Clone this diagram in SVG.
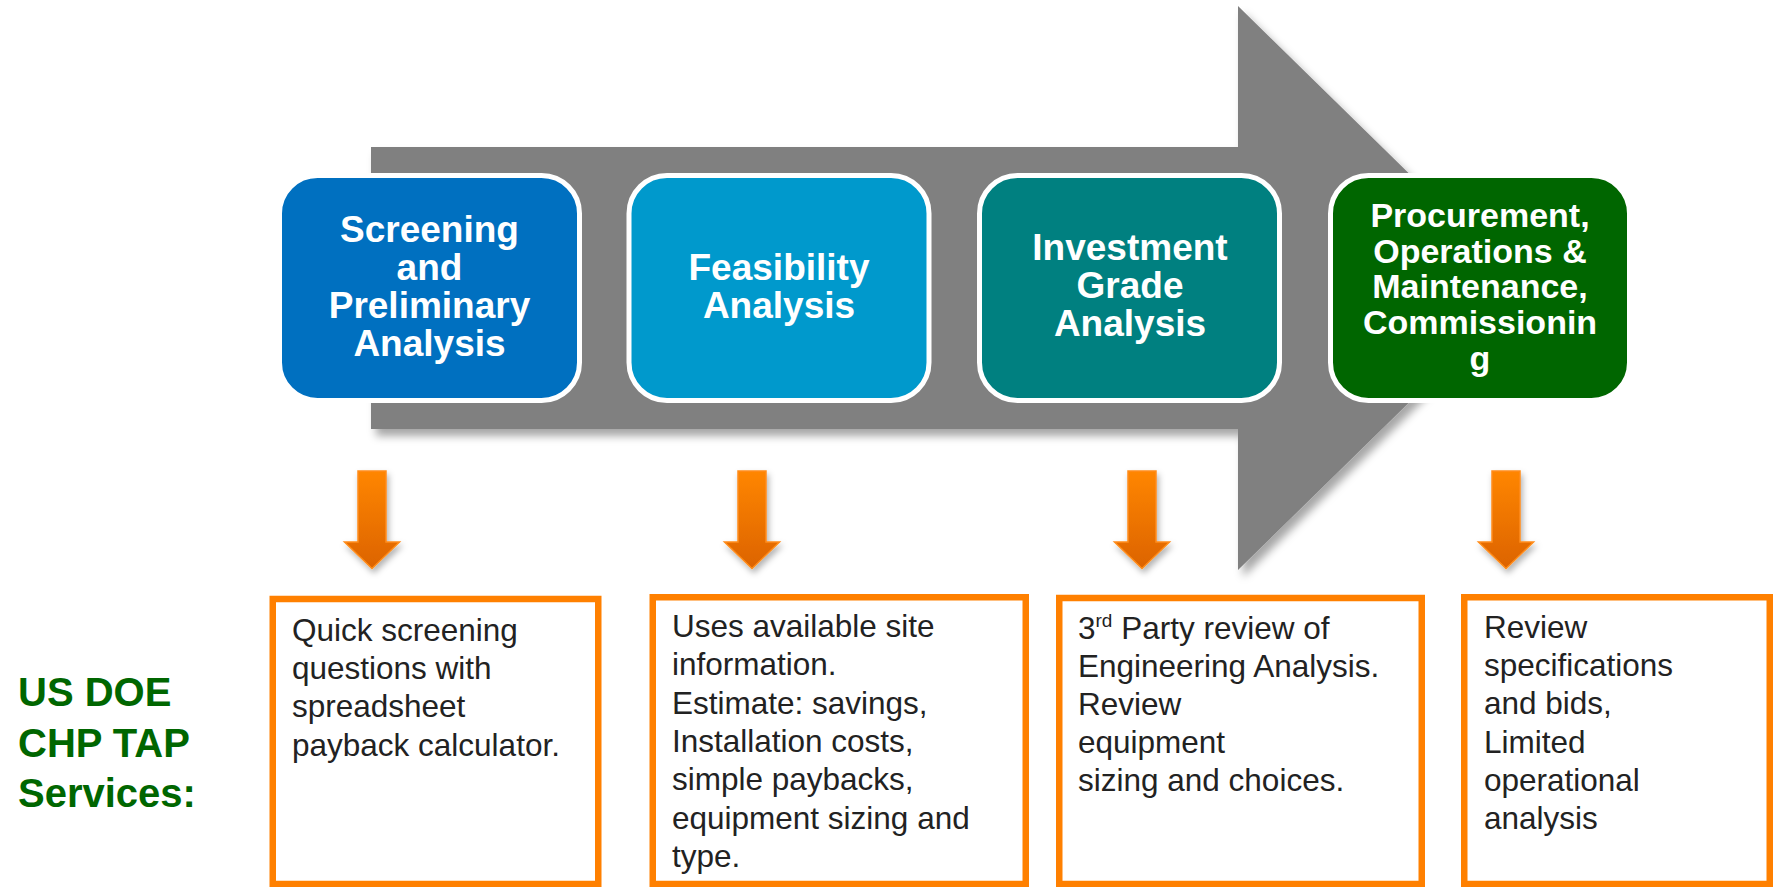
<svg xmlns="http://www.w3.org/2000/svg" width="1777" height="887" viewBox="0 0 1777 887">
<defs>
<filter id="shadow" x="-10%" y="-10%" width="130%" height="130%">
<feDropShadow dx="5" dy="7" stdDeviation="4" flood-color="#000" flood-opacity="0.35"/>
</filter>
<filter id="shadowSmall" x="-30%" y="-30%" width="160%" height="160%">
<feDropShadow dx="2" dy="4" stdDeviation="3" flood-color="#000" flood-opacity="0.3"/>
</filter>
<linearGradient id="orangeGrad" x1="0" y1="0" x2="0" y2="1">
<stop offset="0" stop-color="#FF8600"/>
<stop offset="1" stop-color="#DC6300"/>
</linearGradient>
<style>
.stage{stroke:#fff;stroke-width:5}
.stext{font-family:"Liberation Sans",Arial,sans-serif;font-weight:bold;fill:#fff;text-anchor:middle}
.obox{fill:#fff;stroke:#FF8000;stroke-width:6.5}
.otext{font-family:"Liberation Sans",Arial,sans-serif;font-size:31.5px;fill:#222}
.oarrow{fill:url(#orangeGrad);stroke:#FF8C1A;stroke-width:1.5;stroke-linejoin:miter}
.label{font-family:"Liberation Sans",Arial,sans-serif;font-weight:bold;font-size:40px;fill:#006600}
</style>
</defs>
<rect width="1777" height="887" fill="#fff"/>

<g id="big-arrow">
<polygon points="371,147 1238,147 1238,6 1526,288 1238,570 1238,429 371,429" fill="#808080" filter="url(#shadow)"/>
</g>

<g id="stage1">
<rect class="stage" x="279.5" y="175.5" width="300" height="225" rx="38" fill="#0070C0"/>
<text class="stext" font-size="37" x="429.5"><tspan x="429.5" y="242">Screening</tspan><tspan x="429.5" y="280">and</tspan><tspan x="429.5" y="318">Preliminary</tspan><tspan x="429.5" y="356">Analysis</tspan></text>
</g>
<g id="stage2">
<rect class="stage" x="629" y="175.5" width="300" height="225" rx="38" fill="#0099CC"/>
<text class="stext" font-size="37"><tspan x="779" y="280">Feasibility</tspan><tspan x="779" y="318">Analysis</tspan></text>
</g>
<g id="stage3">
<rect class="stage" x="979.5" y="175.5" width="300" height="225" rx="38" fill="#008080"/>
<text class="stext" font-size="37"><tspan x="1130" y="260">Investment</tspan><tspan x="1130" y="298">Grade</tspan><tspan x="1130" y="336">Analysis</tspan></text>
</g>
<g id="stage4">
<rect class="stage" x="1330.5" y="175.5" width="299" height="225" rx="38" fill="#006600"/>
<text class="stext" font-size="34"><tspan x="1480" y="227">Procurement,</tspan><tspan x="1480" y="262.5">Operations &amp;</tspan><tspan x="1480" y="298">Maintenance,</tspan><tspan x="1480" y="334">Commissionin</tspan><tspan x="1480" y="370">g</tspan></text>
</g>

<g id="connectors">
<polygon class="oarrow" filter="url(#shadowSmall)" points="358,471 386,471 386,542 399.5,542 372,568.5 344.5,542 358,542"/>
<polygon class="oarrow" filter="url(#shadowSmall)" points="738,471 766,471 766,542 779.5,542 752,568.5 724.5,542 738,542"/>
<polygon class="oarrow" filter="url(#shadowSmall)" points="1128,471 1156,471 1156,542 1169.5,542 1142,568.5 1114.5,542 1128,542"/>
<polygon class="oarrow" filter="url(#shadowSmall)" points="1492,471 1520,471 1520,542 1533.5,542 1506,568.5 1478.5,542 1492,542"/>
</g>

<g id="label">
<text class="label"><tspan x="18" y="706">US DOE</tspan><tspan x="18" y="757">CHP TAP</tspan><tspan x="18" y="807">Services:</tspan></text>
</g>

<g id="service1">
<rect class="obox" x="272.75" y="599" width="325.5" height="285"/>
<text class="otext"><tspan x="292" y="641">Quick screening</tspan><tspan x="292" y="679">questions with</tspan><tspan x="292" y="717">spreadsheet</tspan><tspan x="292" y="755.5">payback calculator.</tspan></text>
</g>
<g id="service2">
<rect class="obox" x="652.75" y="597.25" width="373" height="286.75"/>
<text class="otext"><tspan x="672" y="637">Uses available site</tspan><tspan x="672" y="675">information.</tspan><tspan x="672" y="713.5">Estimate: savings,</tspan><tspan x="672" y="752">Installation costs,</tspan><tspan x="672" y="790">simple paybacks,</tspan><tspan x="672" y="828.5">equipment sizing and</tspan><tspan x="672" y="867">type.</tspan></text>
</g>
<g id="service3">
<rect class="obox" x="1059.25" y="598" width="362.5" height="286"/>
<text class="otext"><tspan x="1078" y="638.5">3</tspan><tspan font-size="19" dy="-12">rd</tspan><tspan dy="12"> Party review of</tspan><tspan x="1078" y="676.5">Engineering Analysis.</tspan><tspan x="1078" y="715">Review</tspan><tspan x="1078" y="753">equipment</tspan><tspan x="1078" y="791">sizing and choices.</tspan></text>
</g>
<g id="service4">
<rect class="obox" x="1464.25" y="597.25" width="305.5" height="286.75"/>
<text class="otext"><tspan x="1484" y="637.5">Review</tspan><tspan x="1484" y="676">specifications</tspan><tspan x="1484" y="714">and bids,</tspan><tspan x="1484" y="752.5">Limited</tspan><tspan x="1484" y="790.5">operational</tspan><tspan x="1484" y="829">analysis</tspan></text>
</g>
</svg>
